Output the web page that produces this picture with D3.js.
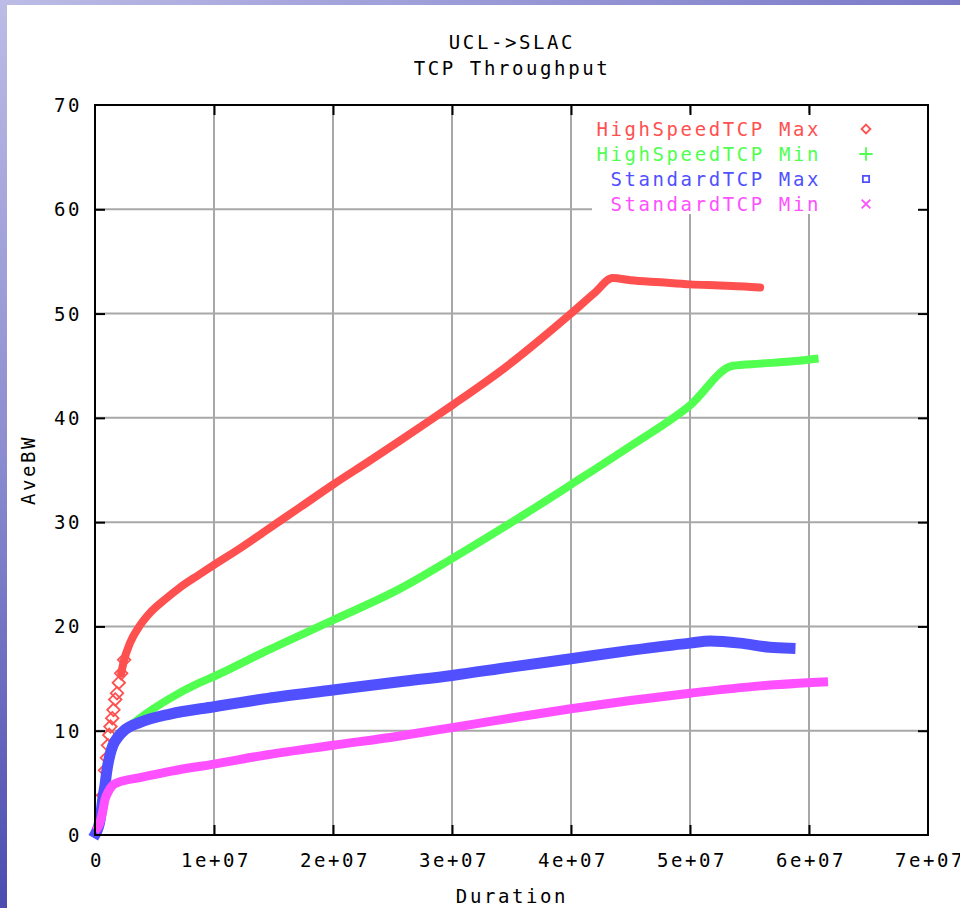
<!DOCTYPE html>
<html>
<head>
<meta charset="utf-8">
<script src="https://cdn.jsdelivr.net/npm/d3@7/dist/d3.min.js"></script>
<style>
  html, body { margin: 0; padding: 0; background: #fff; }
  svg { display: block; }
  text { font-family: "DejaVu Sans Mono", monospace; font-size: 19px; letter-spacing: 2.6px; fill: #000; }
</style>
</head>
<body>
<svg id="chart" width="960" height="908"></svg>
<script>
// ---- data (Duration, AveBW) ----
const hsMax = [
  [0.08e6,0.3],[0.42e6,1.9],[0.67e6,3.8],[0.84e6,6.2],[1.0e6,7.4],[1.09e6,8.6],[1.2e6,9.6],[1.3e6,10.4],
  [1.45e6,11.2],[1.55e6,12.0],[1.7e6,13.0],[1.85e6,13.6],[2.0e6,14.6],[2.2e6,15.5],[2.45e6,16.8],
  [2.94e6,18.4],[3.78e6,20.1],[4.62e6,21.3],[5.9e6,22.6],[7.1e6,23.7],[8.8e6,25.0],[1.0e7,25.9],
  [1.22e7,27.5],[1.45e7,29.3],[1.72e7,31.4],[2.0e7,33.6],[2.31e7,35.9],[2.56e7,37.8],[2.82e7,39.8],
  [3.0e7,41.2],[3.24e7,43.1],[3.49e7,45.2],[3.74e7,47.5],[4.0e7,50.0],[4.2e7,52.0],[4.35e7,53.4],
  [4.5e7,53.2],[4.75e7,53.0],[5.0e7,52.8],[5.25e7,52.7],[5.46e7,52.6],[5.59e7,52.5]
];
const hsMin = [
  [0.08e6,0.3],[0.42e6,1.6],[0.76e6,4.3],[1.0e6,6.2],[1.26e6,7.5],[1.68e6,8.8],[2.35e6,9.8],
  [3.78e6,11.2],[6.3e6,13.1],[8.8e6,14.6],[1.0e7,15.2],[1.45e7,17.7],[2.0e7,20.6],[2.56e7,23.6],
  [3.0e7,26.5],[3.49e7,29.9],[4.0e7,33.6],[4.5e7,37.3],[5.0e7,41.2],[5.36e7,45.0],
  [5.59e7,45.2],[5.84e7,45.4],[6.08e7,45.7]
];
const stdMax = [
  [0.08e6,0.2],[0.42e6,1.4],[0.67e6,3.6],[0.84e6,4.8],[1.0e6,6.2],[1.26e6,7.7],[1.51e6,8.6],
  [1.93e6,9.4],[2.52e6,10.1],[3.78e6,10.8],[6.3e6,11.6],[1.0e7,12.3],[1.45e7,13.1],[2.0e7,13.9],
  [2.56e7,14.7],[3.0e7,15.3],[3.49e7,16.1],[4.0e7,16.9],[4.5e7,17.7],[5.0e7,18.4],[5.17e7,18.6],
  [5.42e7,18.4],[5.67e7,18.0],[5.84e7,17.9]
];
const stdMin = [
  [0.0,0.4],[0.42e6,1.2],[0.67e6,2.4],[0.84e6,3.4],[1.09e6,4.1],[1.43e6,4.7],[1.85e6,5.0],
  [3.78e6,5.5],[6.3e6,6.1],[1.0e7,6.8],[1.45e7,7.7],[2.0e7,8.6],[2.56e7,9.5],[3.0e7,10.3],
  [3.49e7,11.2],[4.0e7,12.1],[4.5e7,12.9],[5.0e7,13.6],[5.59e7,14.3],[6.16e7,14.7]
];
const seriesNames = ["HighSpeedTCP Max","HighSpeedTCP Min","StandardTCP Max","StandardTCP Min"];
const seriesColors = ["#ff5050","#50ff50","#5050ff","#ff50ff"];
const xTickValues = [0,1e7,2e7,3e7,4e7,5e7,6e7,7e7];
const xTickLabels = ["0","1e+07","2e+07","3e+07","4e+07","5e+07","6e+07","7e+07"];
const yTickValues = [0,10,20,30,40,50,60,70];
const yTickLabels = ["0","10","20","30","40","50","60","70"];
const titleLines = ["UCL->SLAC","TCP Throughput"];

// ---- layout ----
const svg = d3.select("#chart");
const L = 95, R = 928, T = 105, B = 835;
const x = d3.scaleLinear().domain([0,7e7]).range([L,R]);
const y = d3.scaleLinear().domain([0,70]).range([B,T]);

// background frame gradients
const defs = svg.append("defs");
const gTop = defs.append("linearGradient").attr("id","gTop").attr("x1","0").attr("x2","1").attr("y1","0").attr("y2","0");
gTop.append("stop").attr("offset","0").attr("stop-color","#bcbce6");
gTop.append("stop").attr("offset","0.35").attr("stop-color","#a4a4dc");
gTop.append("stop").attr("offset","1").attr("stop-color","#7a7ac8");
const gLeft = defs.append("linearGradient").attr("id","gLeft").attr("x1","0").attr("x2","0").attr("y1","0").attr("y2","1");
gLeft.append("stop").attr("offset","0").attr("stop-color","#bcbce6");
gLeft.append("stop").attr("offset","0.5").attr("stop-color","#8c8cd0");
gLeft.append("stop").attr("offset","1").attr("stop-color","#4c4cb0");
svg.append("rect").attr("x",0).attr("y",0).attr("width",960).attr("height",908).attr("fill","#fff");
svg.append("rect").attr("x",0).attr("y",0).attr("width",960).attr("height",5).attr("fill","url(#gTop)");
svg.append("rect").attr("x",0).attr("y",0).attr("width",7).attr("height",908).attr("fill","url(#gLeft)");

// grid
const grid = svg.append("g");
grid.selectAll(".gx").data(xTickValues.slice(1,-1)).join("line")
  .attr("x1",d=>x(d)).attr("x2",d=>x(d)).attr("y1",T).attr("y2",B)
  .attr("stroke","#a8a8a8").attr("stroke-width",2);
grid.selectAll(".gy").data(yTickValues.slice(1,-1)).join("line")
  .attr("x1",L).attr("x2",R).attr("y1",d=>y(d)).attr("y2",d=>y(d))
  .attr("stroke","#a8a8a8").attr("stroke-width",2);

// legend blank box
svg.append("rect").attr("x",592).attr("y",113).attr("width",R-592).attr("height",101).attr("fill","#fff");

// data
const line = d3.line().x(d=>x(d[0])).y(d=>y(d[1])).curve(d3.curveMonotoneX);
const allSeries = [hsMax, hsMin, stdMax, stdMin];
const widths = [8, 8, 11, 9];
const caps = ["round","butt","square","butt"];
const plot = svg.append("g");
const diamond = d3.symbol().type(d3.symbolDiamond2).size(100);
[0,1,2,3].forEach(i => {
  let pts = allSeries[i];
  if (i === 0) {
    pts = pts.filter(d => d[0] >= 2.2e6);
    // early sparse red diamonds
    plot.selectAll(".dm").data(hsMax.filter(d => d[0] < 2.6e6 && d[0] > 0.5e6)).join("path")
      .attr("transform", d => `translate(${x(d[0])},${y(d[1])})`)
      .attr("d", diamond).attr("fill","none").attr("stroke","#ff5050").attr("stroke-width",1.8);
  }
  plot.append("path").datum(pts).attr("d", line)
    .attr("fill","none").attr("stroke",seriesColors[i])
    .attr("stroke-width",widths[i]).attr("stroke-linejoin","round").attr("stroke-linecap",caps[i]);
});

// border
svg.append("rect").attr("x",L).attr("y",T).attr("width",R-L).attr("height",B-T)
  .attr("fill","none").attr("stroke","#000").attr("stroke-width",2);

// ticks via axes (inward, mirrored)
const tickLen = 10;
const axStyle = g => { g.select(".domain").remove(); g.selectAll(".tick line").attr("stroke","#000").attr("stroke-width",2); g.selectAll("text").remove(); };
svg.append("g").attr("transform",`translate(0,${B})`).call(d3.axisBottom(x).tickValues(xTickValues.slice(1,-1)).tickSize(-tickLen)).call(axStyle);
svg.append("g").attr("transform",`translate(0,${T})`).call(d3.axisTop(x).tickValues(xTickValues.slice(1,-1)).tickSize(-tickLen)).call(axStyle);
svg.append("g").attr("transform",`translate(${L},0)`).call(d3.axisLeft(y).tickValues(yTickValues.slice(1,-1)).tickSize(-tickLen)).call(axStyle);
svg.append("g").attr("transform",`translate(${R},0)`).call(d3.axisRight(y).tickValues(yTickValues.slice(1,-1)).tickSize(-tickLen)).call(axStyle);

// tick labels
svg.append("g").selectAll("text").data(xTickValues).join("text")
  .attr("x",(d)=>x(d)+2).attr("y",867).attr("text-anchor","middle").text((d,i)=>xTickLabels[i]);
svg.append("g").selectAll("text").data(yTickValues).join("text")
  .attr("x",82).attr("y",d=>y(d)+7).attr("text-anchor","end").text((d,i)=>yTickLabels[i]);

// titles
svg.selectAll(".title").data(titleLines).join("text")
  .attr("x",512).attr("y",(d,i)=>49+i*26).attr("text-anchor","middle").text(d=>d);
svg.append("text").attr("x",512).attr("y",903).attr("text-anchor","middle").text("Duration");
svg.append("text").attr("transform","translate(35,470) rotate(-90)").attr("text-anchor","middle").text("AveBW");

// legend
const symbols = [d3.symbolDiamond2, d3.symbolPlus, d3.symbolSquare2, d3.symbolX];
const leg = svg.append("g");
seriesNames.forEach((n,i) => {
  const yy = 129 + i*25;
  leg.append("text").attr("x",821).attr("y",yy+7).attr("text-anchor","end")
    .style("fill",seriesColors[i]).text(n);
  leg.append("path").attr("transform",`translate(866,${yy})`)
    .attr("d", d3.symbol().type(symbols[i]).size(i===1?60:50)())
    .attr("fill","none").attr("stroke",seriesColors[i]).attr("stroke-width",1.8);
});
</script>
</body>
</html>
